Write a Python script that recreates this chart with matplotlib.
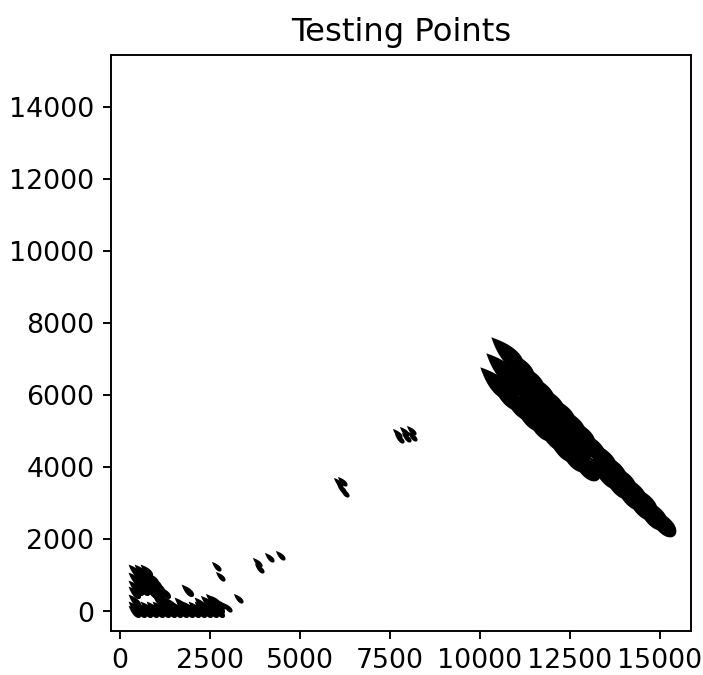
import numpy as np
import matplotlib
matplotlib.use('Agg')
import matplotlib.pyplot as plt
from matplotlib.path import Path

# bottom-left cluster of testing points
cluster_x = [389, 556, 722,
             472, 639,
             389, 556, 722, 889,
             472, 639, 806, 972,
             389, 556, 722, 889, 1056,
             472, 639, 806, 972,
             389, 889, 1056, 1222,
             389, 1056, 1222,
             1389, 1667, 2222, 2500, 1861,
             389, 556, 722, 889, 1056, 1222, 1389, 1556, 1722, 1889, 2056, 2222, 2389, 2556, 2722,
             389, 556, 722, 889, 1056, 1222, 1389, 1556, 1722, 1889, 2056, 2222, 2389, 2556, 2722]
cluster_y = [1139, 1139, 1139,
             1028, 1028,
             917, 917, 917, 917,
             806, 806, 806, 806,
             694, 694, 694, 694, 694,
             611, 611, 611, 611,
             528, 528, 528, 528,
             306, 306, 306,
             222, 222, 222, 222, 583,
             111, 111, 111, 111, 111, 111, 111, 111, 111, 111, 111, 111, 111, 111, 111,
             0, 0, 0, 0, 0, 0, 0, 0, 0, 0, 0, 0, 0, 0, 0]

# isolated points along the diagonal
single_x = [2667, 2778, 3278, 3806, 3861, 4139, 4445,
            2639, 2806, 2972, 2361, 2500,
            6056, 6167, 6139, 6222,
            7695, 7889, 8084, 7750, 7945, 8112]
single_y = [1250, 972, 361, 1361, 1194, 1500, 1556,
            306, 194, 111, 306, 361,
            3584, 3611, 3417, 3306,
            4945, 5000, 5028, 4806, 4834, 4861]

# dense band on the right
band_x = [10730, 11025, 11300, 11595, 11870, 12164, 12439, 12734, 13009, 13304, 13579, 13873, 14148, 14443, 14718, 14960,
          10593, 10888, 11182, 11477, 11752, 12046, 12341, 12616,
          10420, 10700, 11010, 11300, 11620, 11930, 12230, 12540, 12860,
          13441, 13755, 14070, 14384, 14698]
band_y = [7200, 6850, 6530, 6230, 5910, 5610, 5290, 4990, 4670, 4370, 4050, 3750, 3430, 3130, 2810, 2540,
          6740, 6445, 6151, 5856, 5542, 5247, 4952, 4638,
          6350, 6050, 5770, 5470, 5190, 4920, 4620, 4340, 4070,
          3850, 3570, 3290, 3010, 2730]

# teardrop marker, sharp end pointing up-left
t = np.linspace(0, 2 * np.pi, 80)
lx = np.cos(t)
ly = 0.5 * np.sin(t) * np.sin(t / 2)
rot = np.deg2rad(135)
verts = np.column_stack([lx * np.cos(rot) - ly * np.sin(rot),
                         lx * np.sin(rot) + ly * np.cos(rot)])
drop = Path(verts, closed=True)

dpi = 172
fig = plt.figure(figsize=(703 / dpi, 675.5 / dpi), dpi=dpi)
ax = fig.add_axes([0.158, 0.065, 0.825, 0.8535])

ax.scatter(cluster_x, cluster_y, s=30, marker=drop, c='black', linewidths=0)
ax.scatter(single_x, single_y, s=18, marker=drop, c='black', linewidths=0)
ax.scatter(band_x, band_y, s=200, marker=drop, c='black', linewidths=0)

ax.set_xlim(-250, 15861)
ax.set_ylim(-556, 15444)
ax.set_xticks([0, 2500, 5000, 7500, 10000, 12500, 15000])
ax.set_yticks([0, 2000, 4000, 6000, 8000, 10000, 12000, 14000])
ax.set_title('Testing Points', fontsize=13.5)
ax.tick_params(labelsize=11.2)

plt.savefig('out.png', dpi=dpi)
